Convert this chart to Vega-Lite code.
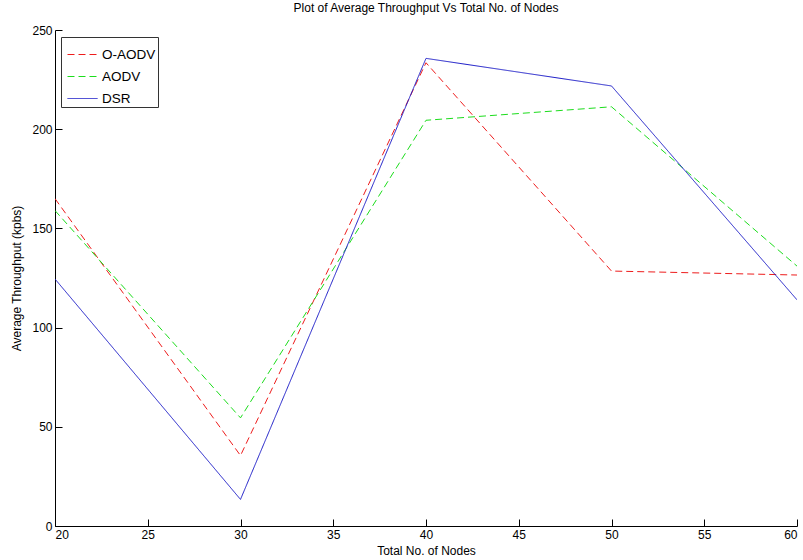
{
  "$schema": "https://vega.github.io/schema/vega-lite/v6.json",
  "width": 742,
  "height": 496,
  "padding": {"left": 55, "top": 30, "right": 6, "bottom": 34},
  "autosize": {"type": "none"},
  "background": "white",
  "title": {
    "text": "Plot of Average Throughput Vs Total No. of Nodes",
    "font": "Liberation Sans",
    "fontSize": 12,
    "fontWeight": "normal",
    "color": "#000000",
    "offset": 9,
    "anchor": "middle"
  },
  "data": {
    "values": [
      {"nodes": 20, "throughput": 165, "protocol": "O-AODV"},
      {"nodes": 30, "throughput": 35.5, "protocol": "O-AODV"},
      {"nodes": 40, "throughput": 233.5, "protocol": "O-AODV"},
      {"nodes": 50, "throughput": 128.5, "protocol": "O-AODV"},
      {"nodes": 60, "throughput": 126.5, "protocol": "O-AODV"},
      {"nodes": 20, "throughput": 159, "protocol": "AODV"},
      {"nodes": 30, "throughput": 54.5, "protocol": "AODV"},
      {"nodes": 40, "throughput": 204.5, "protocol": "AODV"},
      {"nodes": 50, "throughput": 211.3, "protocol": "AODV"},
      {"nodes": 60, "throughput": 131, "protocol": "AODV"},
      {"nodes": 20, "throughput": 124.5, "protocol": "DSR"},
      {"nodes": 30, "throughput": 13.4, "protocol": "DSR"},
      {"nodes": 40, "throughput": 235.7, "protocol": "DSR"},
      {"nodes": 50, "throughput": 221.8, "protocol": "DSR"},
      {"nodes": 60, "throughput": 114, "protocol": "DSR"}
    ]
  },
  "mark": {"type": "line", "strokeWidth": 1, "clip": true},
  "encoding": {
    "x": {
      "field": "nodes",
      "type": "quantitative",
      "scale": {"domain": [20, 60], "nice": false, "zero": false},
      "axis": {
        "title": "Total No. of Nodes",
        "values": [20, 25, 30, 35, 40, 45, 50, 55, 60],
        "grid": false,
        "tickSize": -7,
        "labelPadding": 10,
        "titlePadding": 5
      }
    },
    "y": {
      "field": "throughput",
      "type": "quantitative",
      "scale": {"domain": [0, 250], "nice": false},
      "axis": {
        "title": "Average Throughput (kpbs)",
        "values": [0, 50, 100, 150, 200, 250],
        "grid": false,
        "tickSize": -7,
        "labelPadding": 10,
        "titlePadding": 8
      }
    },
    "color": {
      "field": "protocol",
      "type": "nominal",
      "sort": ["O-AODV", "AODV", "DSR"],
      "scale": {"domain": ["O-AODV", "AODV", "DSR"], "range": ["#ee1c1c", "#1cdd1c", "#1c1cc8"]},
      "legend": {
        "title": null,
        "orient": "none",
        "legendX": 6,
        "legendY": 7,
        "symbolType": "stroke",
        "symbolSize": 900,
        "symbolStrokeWidth": 1,
        "symbolOffset": 4,
        "labelOffset": 4,
        "labelFont": "Liberation Sans",
        "labelFontSize": 13.5,
        "labelColor": "#000000",
        "padding": 2,
        "rowPadding": -25,
        "strokeColor": "#333333",
        "fillColor": "white"
      }
    },
    "strokeDash": {
      "field": "protocol",
      "type": "nominal",
      "scale": {"domain": ["O-AODV", "AODV", "DSR"], "range": [[7, 4], [7, 4], [1, 0]]},
      "legend": null
    }
  },
  "config": {
    "view": {"stroke": null},
    "axis": {
      "domainColor": "#000000",
      "tickColor": "#000000",
      "labelColor": "#000000",
      "titleColor": "#000000",
      "labelFont": "Liberation Sans",
      "titleFont": "Liberation Sans",
      "labelFontSize": 12,
      "titleFontSize": 12,
      "titleFontWeight": "normal",
      "domainWidth": 1,
      "tickWidth": 1
    }
  }
}
